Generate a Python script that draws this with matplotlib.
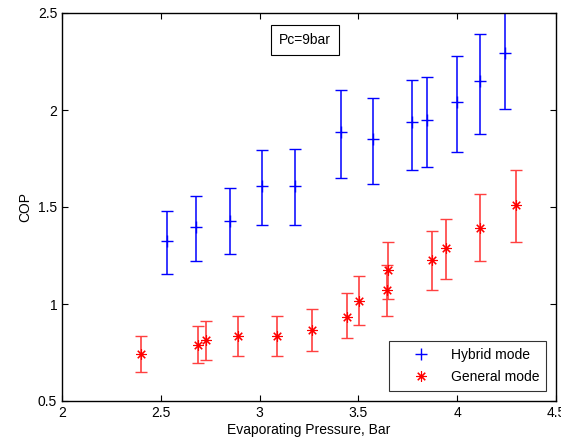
import matplotlib
matplotlib.use("Agg")
import matplotlib.pyplot as plt
from matplotlib.lines import Line2D

plt.rcParams['font.family'] = ['Liberation Sans', 'DejaVu Sans']

# Hybrid mode data
hyb_x = [2.53, 2.68, 2.85, 3.01, 3.18, 3.41, 3.575, 3.77, 3.845, 4.0, 4.115, 4.24]
hyb_y = [1.325, 1.398, 1.43, 1.61, 1.61, 1.885, 1.85, 1.938, 1.95, 2.043, 2.148, 2.295]
hyb_lo = [1.156, 1.22, 1.256, 1.407, 1.405, 1.648, 1.617, 1.692, 1.705, 1.785, 1.875, 2.005]
hyb_hi = [1.48, 1.558, 1.60, 1.792, 1.80, 2.103, 2.062, 2.155, 2.172, 2.277, 2.393, 2.585]

# General mode data
gen_x = [2.40, 2.69, 2.73, 2.89, 3.087, 3.265, 3.44, 3.505, 3.645, 3.648, 3.87, 3.943, 4.115, 4.30]
gen_y = [0.742, 0.789, 0.814, 0.837, 0.837, 0.866, 0.935, 1.017, 1.07, 1.175, 1.228, 1.287, 1.393, 1.51]
gen_lo = [0.648, 0.694, 0.713, 0.730, 0.730, 0.759, 0.823, 0.892, 0.94, 1.026, 1.074, 1.127, 1.22, 1.32]
gen_hi = [0.833, 0.887, 0.911, 0.938, 0.938, 0.974, 1.057, 1.143, 1.203, 1.318, 1.378, 1.44, 1.565, 1.692]

xticks = [2, 2.5, 3, 3.5, 4, 4.5]
yticks = [0.5, 1, 1.5, 2, 2.5]

fig = plt.figure(figsize=(5.61, 4.45), dpi=100)
ax = fig.add_axes([62/561, 1-401/445, (556-62)/561, (401-13)/445])

hyb_err = [[y - l for y, l in zip(hyb_y, hyb_lo)], [h - y for y, h in zip(hyb_y, hyb_hi)]]
gen_err = [[y - l for y, l in zip(gen_y, gen_lo)], [h - y for y, h in zip(gen_y, gen_hi)]]

star = (8, 2, 0)

ax.errorbar(hyb_x, hyb_y, yerr=hyb_err, fmt='+', color='blue', ecolor='blue',
            elinewidth=1.1, capsize=4, capthick=1.0, markersize=9, markeredgewidth=1.0)
ax.errorbar(gen_x, gen_y, yerr=gen_err, fmt='none', ecolor=(1, 0.25, 0.25),
            elinewidth=1.2, capsize=4, capthick=1.0)
ax.plot(gen_x, gen_y, linestyle='none', marker=star, color='red',
        markersize=7.5, markeredgewidth=0.8)

ax.set_xlim(2, 4.5)
ax.set_ylim(0.5, 2.5)
ax.set_xticks(xticks)
ax.set_xticklabels(['2', '2.5', '3', '3.5', '4', '4.5'])
ax.set_yticks(yticks)
ax.set_yticklabels(['0.5', '1', '1.5', '2', '2.5'])
ax.tick_params(direction='in', top=True, right=True, labelsize=10, length=4)
for s in ax.spines.values():
    s.set_linewidth(1.0)

ax.set_xlabel('Evaporating Pressure, Bar', fontsize=10, labelpad=2)
ax.set_ylabel('COP', fontsize=10, labelpad=4)

ax.text(3.23, 2.36, 'Pc=9bar', fontsize=10, ha='center', va='center',
        bbox=dict(boxstyle='square,pad=0.6', fc='white', ec='black', lw=0.8))

handles = [
    Line2D([], [], linestyle='none', marker='+', color='blue', markersize=9, markeredgewidth=1.0),
    Line2D([], [], linestyle='none', marker=star, color='red', markersize=7.5, markeredgewidth=0.8),
]
leg = ax.legend(handles, ['Hybrid mode', 'General mode'], loc='lower right', fontsize=10,
                frameon=True, fancybox=False, edgecolor='black', borderaxespad=0.72,
                handletextpad=0.3, handlelength=3.6, borderpad=0.5, labelspacing=0.6)
leg.get_frame().set_linewidth(0.8)

fig.savefig('out.png', dpi=100)
